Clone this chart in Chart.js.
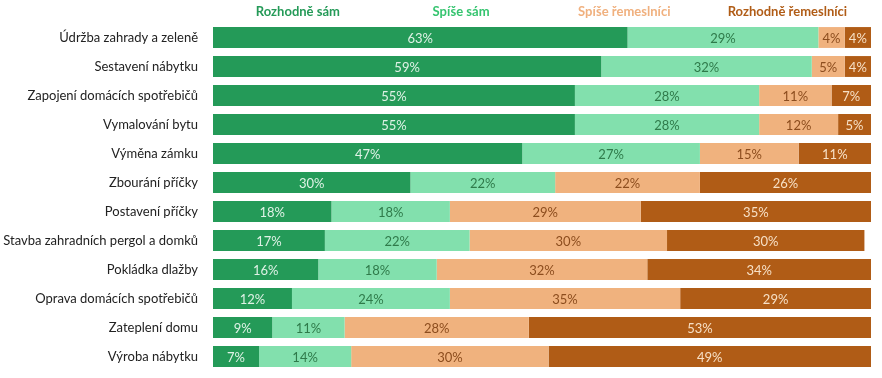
<!DOCTYPE html>
<html>
<head>
<meta charset="utf-8">
<script src="https://cdn.jsdelivr.net/npm/chart.js@4"></script>
<style>
  html, body { margin: 0; padding: 0; background: #fff; }
  #wrap { width: 882px; height: 378px; }
</style>
</head>
<body>
<div id="wrap"><canvas id="chart"></canvas></div>
<script>
const categories = [
    "Údržba zahrady a zeleně",
    "Sestavení nábytku",
    "Zapojení domácích spotřebičů",
    "Vymalování bytu",
    "Výměna zámku",
    "Zbourání příčky",
    "Postavení příčky",
    "Stavba zahradních pergol a domků",
    "Pokládka dlažby",
    "Oprava domácích spotřebičů",
    "Zateplení domu",
    "Výroba nábytku"
];
const rozhodneSam = [63, 59, 55, 55, 47, 30, 18, 17, 16, 12, 9, 7];
const spiseSam = [29, 32, 28, 28, 27, 22, 18, 22, 18, 24, 11, 14];
const spiseRemeslnici = [4, 5, 11, 12, 15, 22, 29, 30, 32, 35, 28, 30];
const rozhodneRemeslnici = [4, 4, 7, 5, 11, 26, 35, 30, 34, 29, 53, 49];

const fontFamily = "Lato, 'Open Sans', sans-serif";

// values written inside the bars
const barLabels = {
    id: "barLabels",
    afterDatasetsDraw(chart) {
        const ctx = chart.ctx;
        ctx.save();
        ctx.font = "13px " + fontFamily;
        ctx.textAlign = "center";
        ctx.textBaseline = "middle";
        chart.data.datasets.forEach((ds, i) => {
            const meta = chart.getDatasetMeta(i);
            meta.data.forEach((bar, j) => {
                const left = Math.max(bar.base, chart.chartArea.left);
                const right = Math.min(bar.x, chart.chartArea.right);
                ctx.fillStyle = ds.labelColor;
                ctx.fillText(ds.data[j] + "%", (left + right) / 2, bar.y + 1);
            });
        });
        ctx.restore();
    }
};

// coloured text legend without boxes, spread evenly over the plot width
const textLegend = {
    id: "textLegend",
    afterDraw(chart) {
        const ctx = chart.ctx;
        const area = chart.chartArea;
        const n = chart.data.datasets.length;
        const step = (area.right - area.left) * 0.992 / n;
        ctx.save();
        ctx.font = "bold 13px " + fontFamily;
        ctx.textAlign = "center";
        ctx.textBaseline = "middle";
        chart.data.datasets.forEach((ds, i) => {
            ctx.fillStyle = ds.legendColor;
            ctx.fillText(ds.label, area.left + step * (i + 0.52), 11.5);
        });
        ctx.restore();
    }
};

new Chart(document.getElementById("chart"), {
    type: "bar",
    data: {
        labels: categories,
        datasets: [
            { label: "Rozhodně sám", data: rozhodneSam, backgroundColor: "#249a58", labelColor: "#dff2e6", legendColor: "#259a58" },
            { label: "Spíše sám", data: spiseSam, backgroundColor: "#82e0ad", labelColor: "#2f7a4a", legendColor: "#35c46f" },
            { label: "Spíše řemeslníci", data: spiseRemeslnici, backgroundColor: "#f0b27e", labelColor: "#8c4d1e", legendColor: "#f0b07e" },
            { label: "Rozhodně řemeslníci", data: rozhodneRemeslnici, backgroundColor: "#b05c16", labelColor: "#f7e0c6", legendColor: "#b05c16" }
        ]
    },
    options: {
        indexAxis: "y",
        responsive: true,
        maintainAspectRatio: false,
        animation: false,
        layout: { padding: { left: 0, right: 11, top: 23, bottom: 7 } },
        datasets: {
            bar: { categoryPercentage: 1, barPercentage: 0.72 }
        },
        scales: {
            x: {
                stacked: true,
                min: 0,
                max: 100,
                display: false
            },
            y: {
                stacked: true,
                grid: { display: false },
                border: { display: false },
                afterFit(scale) {
                    scale.width = 213;
                    // no extra room for half a label above and below
                    scale.paddingTop = 0;
                    scale.paddingBottom = 0;
                },
                ticks: {
                    color: "#222",
                    padding: 7,
                    font: { family: fontFamily, size: 13 }
                }
            }
        },
        plugins: {
            tooltip: { enabled: false },
            legend: { display: false }
        }
    },
    plugins: [barLabels, textLegend]
});
</script>
</body>
</html>
